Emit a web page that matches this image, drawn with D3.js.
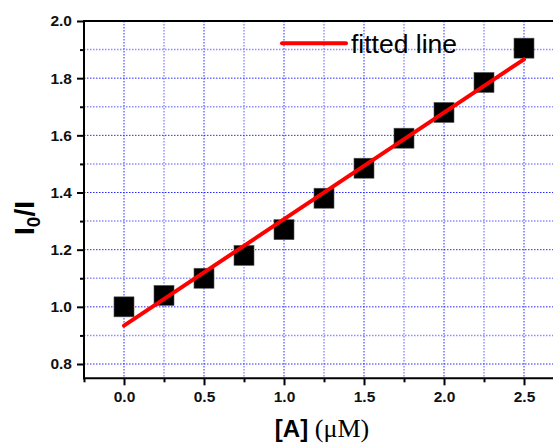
<!DOCTYPE html>
<html><head><meta charset="utf-8">
<script src="https://cdn.jsdelivr.net/npm/d3@7"></script>
<style>body{margin:0;background:#fff}svg{display:block}</style>
</head><body>
<svg id="c" width="553" height="445"></svg>
<script>
const concentrations = [0, 0.25, 0.5, 0.75, 1.0, 1.25, 1.5, 1.75, 2.0, 2.25, 2.5];
const ratios = [1.00, 1.04, 1.10, 1.18, 1.27, 1.38, 1.485, 1.59, 1.68, 1.785, 1.905];
const fitX = [0, 2.5];
const fitY = [0.934, 1.866];
const xTicks = [0, 0.5, 1.0, 1.5, 2.0, 2.5];
const xMinor = [-0.25, 0.25, 0.75, 1.25, 1.75, 2.25, 2.75];
const yTicks = [0.8, 1.0, 1.2, 1.4, 1.6, 1.8, 2.0];
const yMinor = [0.9, 1.1, 1.3, 1.5, 1.7, 1.9];
const legendLabel = "fitted line";

const svg = d3.select("#c");
const W = 553;
const x = d3.scaleLinear().domain([-0.25, 2.75]).range([84, 564]);
const y = d3.scaleLinear().domain([0.75, 2.0]).range([378.3, 21]);
const L = x(-0.25), B = y(0.75), T = y(2.0);

// grid
const g = svg.append("g");
const vGrid = xTicks.concat(xMinor).filter(v => v > -0.25);
g.selectAll(".vg").data(vGrid).join("line")
  .attr("x1", d => x(d)).attr("x2", d => x(d)).attr("y1", T).attr("y2", B)
  .attr("stroke", d => xTicks.includes(d) ? "#2a2aff" : "#5a5aff")
  .attr("stroke-width", 1).attr("stroke-dasharray", "1.5,1.5");
const hGrid = yTicks.concat(yMinor).filter(v => v < 2.0);
g.selectAll(".hg").data(hGrid).join("line")
  .attr("x1", L).attr("x2", W).attr("y1", d => y(d)).attr("y2", d => y(d))
  .attr("stroke", d => yTicks.some(t => Math.abs(t - d) < 1e-9) ? "#2a2aff" : "#8c8cff")
  .attr("stroke-width", d => yTicks.some(t => Math.abs(t - d) < 1e-9) ? 1 : 1.5)
  .attr("stroke-dasharray", "1.5,1.5");

// squares
svg.selectAll(".pt").data(concentrations).join("rect")
  .attr("x", (d) => x(d) - 10).attr("y", (d, i) => y(ratios[i]) - 10)
  .attr("width", 20).attr("height", 20).attr("fill", "#000")
  .attr("stroke", "#555").attr("stroke-width", 0.6);

// fitted line
const line = d3.line().x(d => x(d[0])).y(d => y(d[1]));
svg.append("path").datum(fitX.map((v, i) => [v, fitY[i]]))
  .attr("d", line).attr("stroke", "#ff0000").attr("stroke-width", 4)
  .attr("stroke-linecap", "round").attr("fill", "none");

// axes
const font = "'Liberation Sans', Arial, sans-serif";
const xAxis = svg.append("g").attr("transform", `translate(0,${B})`)
  .call(d3.axisBottom(x).tickValues(xTicks).tickSize(7).tickPadding(6).tickFormat(d3.format(".1f")));
const xAxisMinor = svg.append("g").attr("transform", `translate(0,${B})`)
  .call(d3.axisBottom(x).tickValues(xMinor).tickSize(4).tickFormat(""));
const yAxis = svg.append("g").attr("transform", `translate(${L},0)`)
  .call(d3.axisLeft(y).tickValues(yTicks).tickSize(7).tickPadding(5).tickFormat(d3.format(".1f")));
const yAxisMinor = svg.append("g").attr("transform", `translate(${L},0)`)
  .call(d3.axisLeft(y).tickValues(yMinor).tickSize(4).tickFormat(""));
[xAxis, xAxisMinor, yAxis, yAxisMinor].forEach(a => {
  a.select(".domain").remove();
  a.selectAll(".tick line").attr("stroke", "#000").attr("stroke-width", 2);
  a.selectAll("text").attr("font-family", font).attr("font-weight", "bold")
    .attr("font-size", 15.5).attr("fill", "#111");
});
// frame lines
svg.append("line").attr("x1", L - 1).attr("x2", W).attr("y1", B).attr("y2", B).attr("stroke", "#000").attr("stroke-width", 2);
svg.append("line").attr("x1", L).attr("x2", L).attr("y1", T - 1).attr("y2", B + 1).attr("stroke", "#000").attr("stroke-width", 2);
svg.append("line").attr("x1", L - 1).attr("x2", W).attr("y1", T).attr("y2", T).attr("stroke", "#000").attr("stroke-width", 2);

// legend
svg.append("line").attr("x1", 282).attr("x2", 346).attr("y1", 43.3).attr("y2", 43.3)
  .attr("stroke", "#ff0000").attr("stroke-width", 4).attr("stroke-linecap", "round");
svg.append("text").attr("x", 351).attr("y", 53).attr("font-family", font)
  .attr("font-size", 26.5).attr("fill", "#000").text(legendLabel);

// x label
const xl = svg.append("text").attr("x", 322).attr("y", 437).attr("text-anchor", "middle")
  .attr("fill", "#000");
xl.append("tspan").attr("font-family", font).attr("font-weight", "bold").attr("font-size", 24).text("[A] ");
xl.append("tspan").attr("font-family", "'Liberation Serif', 'Times New Roman', serif")
  .attr("font-size", 26).text("(μM)");

// y label
const yl = svg.append("text").attr("transform", "translate(34,218) rotate(-90)")
  .attr("text-anchor", "middle").attr("font-family", font).attr("font-weight", "bold")
  .attr("font-size", 28).attr("fill", "#000");
yl.append("tspan").text("I");
yl.append("tspan").attr("font-size", 19).attr("dy", 6).text("0");
yl.append("tspan").attr("dy", -6).text("/I");
</script>
</body></html>
